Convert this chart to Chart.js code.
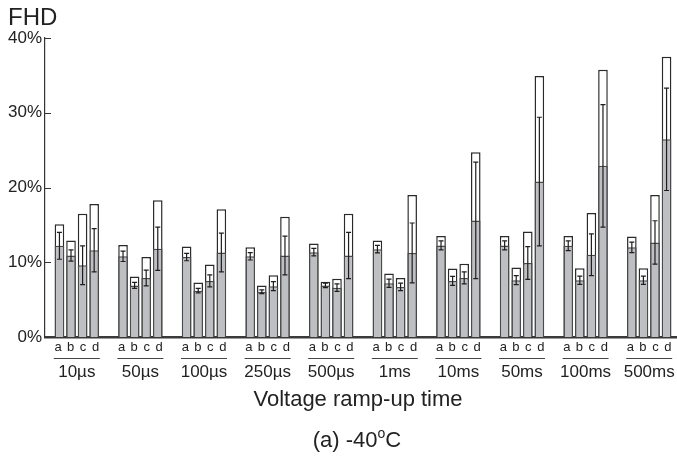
<!DOCTYPE html>
<html>
<head>
<meta charset="utf-8">
<script src="https://cdn.jsdelivr.net/npm/chart.js@4.4.1/dist/chart.umd.min.js"></script>
<style>
  html, body { margin: 0; padding: 0; background: #fff; }
  canvas { display: block; }
</style>
</head>
<body>
<canvas id="fhdChart" width="677" height="459"></canvas>
<script>
// groupes (temps de montée) et sous-catégories
const groups = ['10µs', '50µs', '100µs', '250µs', '500µs', '1ms', '10ms', '50ms', '100ms', '500ms'];
const subLabels = ['a', 'b', 'c', 'd'];
const yTicks = [0, 10, 20, 30, 40];

// barres blanches (valeur haute)
const whiteA = [15.1, 12.3, 12.1, 12.0, 12.5, 12.9, 13.5, 13.5, 13.5, 13.45];
const whiteB = [12.9, 8.1, 7.3, 6.9, 7.4, 8.5, 9.15, 9.3, 9.2, 9.2];
const whiteC = [16.5, 10.7, 9.7, 8.25, 7.8, 7.9, 9.8, 14.1, 16.6, 19.0];
const whiteD = [17.8, 18.3, 17.1, 16.1, 16.5, 19.0, 24.7, 34.9, 35.75, 37.5];

// barres grises (moyenne) + barres d'erreur
const grayA = [12.2, 10.8, 10.7, 10.8, 11.35, 11.75, 12.25, 12.25, 12.2, 12.0];
const grayB = [10.9, 6.9, 6.2, 6.05, 6.9, 7.2, 7.5, 7.6, 7.6, 7.6];
const grayC = [9.6, 7.9, 7.5, 6.8, 6.6, 6.7, 7.9, 9.9, 11.0, 12.65];
const grayD = [11.6, 11.8, 11.3, 10.9, 10.9, 11.25, 15.6, 20.8, 22.9, 26.45];

const errA = [1.8, 0.7, 0.5, 0.5, 0.5, 0.5, 0.6, 0.6, 0.65, 0.7];
const errB = [0.75, 0.4, 0.3, 0.25, 0.3, 0.55, 0.6, 0.6, 0.55, 0.55];
const errC = [2.6, 1.05, 0.8, 0.6, 0.5, 0.5, 0.8, 2.2, 2.8, 2.9];
const errD = [2.9, 2.9, 2.6, 2.6, 3.1, 4.0, 7.8, 8.6, 8.2, 6.85];

const FONT = "'Liberation Sans', Arial, sans-serif";
const whites = [whiteA, whiteB, whiteC, whiteD];
const grays = [grayA, grayB, grayC, grayD];
const errs = [errA, errB, errC, errD];

const datasets = [];
subLabels.forEach((s, k) => {
    datasets.push({
        label: s + ' mean',
        data: grays[k],
        stack: s,
        order: 0,
        errors: errs[k],
        backgroundColor: '#bebfc3',
        borderColor: '#4a4a4a',
        borderWidth: 1.5
    });
});
subLabels.forEach((s, k) => {
    datasets.push({
        label: s + ' max',
        data: whites[k],
        stack: s,
        order: 1,
        backgroundColor: '#ffffff',
        borderColor: '#2a2a2a',
        borderWidth: 1.5
    });
});

// l'axe x du graphique original dépasse un peu le bord droit
const widenPlugin = {
    id: 'widenX',
    afterLayout(chart) {
        const xs = chart.scales.x;
        xs.right = 681;
        xs.width = xs.right - xs.left;
        xs.configure();
        chart.chartArea.right = 681;
        chart.chartArea.width = 681 - chart.chartArea.left;
    }
};

// barres d'erreur + ticks vers l'intérieur
const errorBarPlugin = {
    id: 'errorBars',
    afterDatasetsDraw(chart) {
        const ctx = chart.ctx;
        const y = chart.scales.y;
        ctx.save();
        ctx.strokeStyle = '#1e1e1e';
        ctx.lineWidth = 1.2;
        chart.data.datasets.forEach((ds, di) => {
            if (!ds.errors) return;
            const meta = chart.getDatasetMeta(di);
            meta.data.forEach((bar, i) => {
                const v = ds.data[i], e = ds.errors[i];
                const yt = y.getPixelForValue(v + e);
                const yb = y.getPixelForValue(v - e);
                const x = bar.x;
                ctx.beginPath();
                ctx.moveTo(x, yt); ctx.lineTo(x, yb);
                ctx.moveTo(x - 2.5, yt); ctx.lineTo(x + 2.5, yt);
                ctx.moveTo(x - 2.5, yb); ctx.lineTo(x + 2.5, yb);
                ctx.stroke();
            });
        });
        // petits traits de graduation côté intérieur
        ctx.strokeStyle = '#333';
        ctx.lineWidth = 1;
        const left = chart.chartArea.left;
        yTicks.forEach(t => {
            const py = Math.round(y.getPixelForValue(t)) + 0.5;
            ctx.beginPath();
            ctx.moveTo(left, py); ctx.lineTo(left + 6, py);
            ctx.stroke();
        });
        ctx.restore();
    }
};

// textes sous l'axe : a b c d, traits, groupes, titres
const labelsPlugin = {
    id: 'bottomLabels',
    afterDraw(chart) {
        const ctx = chart.ctx;
        const xs = chart.scales.x;
        const area = chart.chartArea;
        ctx.save();
        ctx.fillStyle = '#222';
        ctx.textAlign = 'center';
        ctx.textBaseline = 'alphabetic';

        groups.forEach((g, i) => {
            const cx = xs.getPixelForValue(i);
            ctx.font = '13px ' + FONT;
            subLabels.forEach((s, k) => {
                const bx = chart.getDatasetMeta(k).data[i].x;
                ctx.fillText(s, cx + (bx - cx) * 1.08, area.bottom + 14);
            });
            ctx.strokeStyle = '#444';
            ctx.lineWidth = 1;
            ctx.beginPath();
            ctx.moveTo(cx - 23, area.bottom + 21.5);
            ctx.lineTo(cx + 23, area.bottom + 21.5);
            ctx.stroke();
            ctx.font = '17px ' + FONT;
            ctx.fillText(g, cx, area.bottom + 40);
        });

        ctx.font = '22px ' + FONT;
        ctx.fillText('Voltage ramp-up time', 358, area.bottom + 69);

        // (a) -40°C avec le o en exposant
        const p1 = '(a) -40', p2 = 'o', p3 = 'C';
        ctx.font = '22px ' + FONT;
        const w1 = ctx.measureText(p1).width, w3 = ctx.measureText(p3).width;
        ctx.font = '14px ' + FONT;
        const w2 = ctx.measureText(p2).width;
        let x0 = 357 - (w1 + w2 + w3) / 2;
        ctx.textAlign = 'left';
        ctx.font = '22px ' + FONT;
        ctx.fillText(p1, x0, area.bottom + 110);
        ctx.font = '14px ' + FONT;
        ctx.fillText(p2, x0 + w1, area.bottom + 101);
        ctx.font = '22px ' + FONT;
        ctx.fillText(p3, x0 + w1 + w2, area.bottom + 110);

        ctx.font = '24px ' + FONT;
        ctx.fillText('FHD', 8, 25);
        ctx.restore();
    }
};

new Chart(document.getElementById('fhdChart').getContext('2d'), {
    type: 'bar',
    data: { labels: groups, datasets: datasets },
    options: {
        responsive: false,
        animation: false,
        events: [],
        layout: { padding: { top: 38, bottom: 122, left: 0, right: 0 } },
        categoryPercentage: 0.728,
        barPercentage: 0.83,
        plugins: { legend: { display: false }, tooltip: { enabled: false } },
        scales: {
            x: {
                stacked: true,
                grid: { display: false, drawTicks: false },
                ticks: { display: false },
                border: { display: true, color: '#3a3a3a', width: 2.5 }
            },
            y: {
                stacked: false,
                min: 0,
                max: 40,
                afterBuildTicks(scale) { scale.ticks = yTicks.map(v => ({ value: v })); },
                afterFit(scale) {
                    scale.width = 45;
                    scale.paddingTop = 0;
                    scale.paddingBottom = 0;
                },
                grid: { display: false, drawTicks: false },
                border: { display: true, color: '#333', width: 1.2 },
                ticks: {
                    padding: 3,
                    color: '#222',
                    font: { family: FONT, size: 17 },
                    callback: v => v + '%'
                }
            }
        }
    },
    plugins: [widenPlugin, errorBarPlugin, labelsPlugin]
});
</script>
</body>
</html>
